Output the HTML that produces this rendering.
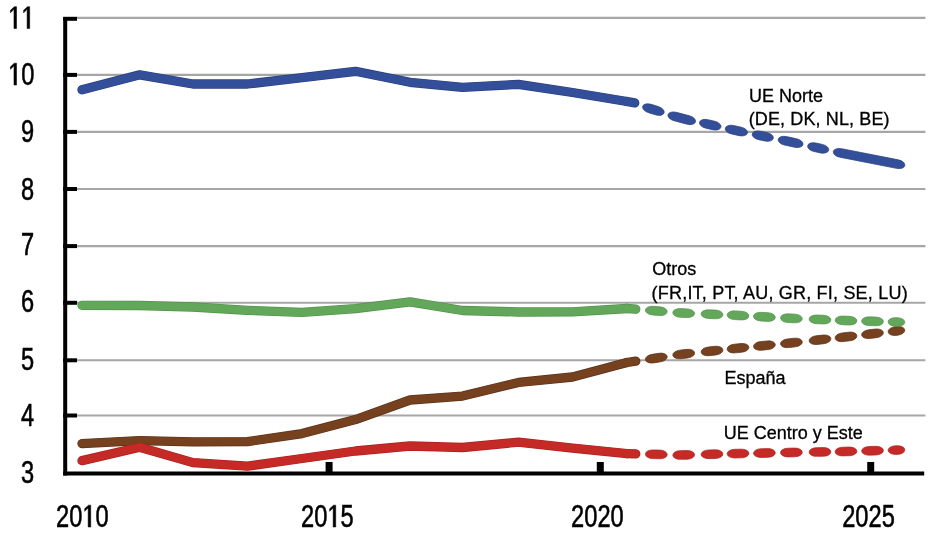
<!DOCTYPE html>
<html><head><meta charset="utf-8"><style>
html,body{margin:0;padding:0;background:#fff;}
body{width:950px;height:535px;overflow:hidden;font-family:"Liberation Sans",sans-serif;}
svg{display:block;will-change:transform;}
</style></head><body>
<svg width="950" height="535" viewBox="0 0 950 535">
<rect width="950" height="535" fill="#fff"/>
<g stroke="#a6a6a6" stroke-width="2.1"><line x1="77" y1="415.50" x2="925.4" y2="415.50"/><line x1="77" y1="360.30" x2="925.4" y2="360.30"/><line x1="77" y1="302.80" x2="925.4" y2="302.80"/><line x1="77" y1="246.10" x2="925.4" y2="246.10"/><line x1="77" y1="189.00" x2="925.4" y2="189.00"/><line x1="77" y1="131.90" x2="925.4" y2="131.90"/><line x1="77" y1="74.90" x2="925.4" y2="74.90"/><line x1="77" y1="17.90" x2="925.4" y2="17.90"/></g>
<g stroke="#000" stroke-width="4"><line x1="65.2" y1="17" x2="65.2" y2="475.5"/><line x1="63.2" y1="415.50" x2="77" y2="415.50"/><line x1="63.2" y1="360.30" x2="77" y2="360.30"/><line x1="63.2" y1="302.80" x2="77" y2="302.80"/><line x1="63.2" y1="246.10" x2="77" y2="246.10"/><line x1="63.2" y1="189.00" x2="77" y2="189.00"/><line x1="63.2" y1="131.90" x2="77" y2="131.90"/><line x1="63.2" y1="74.90" x2="77" y2="74.90"/><line x1="63.2" y1="18.80" x2="77" y2="18.80"/></g>
<line x1="63.2" y1="473.5" x2="924.2" y2="473.5" stroke="#000" stroke-width="4"/>
<line x1="329.1" y1="462" x2="329.1" y2="473" stroke="#000" stroke-width="7"/>
<line x1="600.3" y1="462" x2="600.3" y2="473" stroke="#000" stroke-width="7"/>
<line x1="870.7" y1="462" x2="870.7" y2="473" stroke="#000" stroke-width="7"/>
<g fill="none" stroke-linecap="round" stroke-linejoin="round"><polyline points="82.00,89.80 139.70,74.80 193.00,84.00 247.50,84.00 302.00,77.70 355.50,71.30 410.00,82.30 462.50,87.30 518.50,84.40 572.50,92.50 627.00,101.50" stroke="#2b3f7c" stroke-width="9.3"/><polyline points="627.00,101.50 634.75,102.90" stroke="#2b3f7c" stroke-width="9.3"/><polyline points="82.00,89.80 139.70,74.80 193.00,84.00 247.50,84.00 302.00,77.70 355.50,71.30 410.00,82.30 462.50,87.30 518.50,84.40 572.50,92.50 627.00,101.50" stroke="#344f9a" stroke-width="8.0"/><polyline points="627.00,101.50 634.75,102.90" stroke="#344f9a" stroke-width="8.0"/></g>
<g fill="#344f9a" stroke="#2b3f7c" stroke-width="0.7"><rect x="-11.19" y="-4.35" width="22.38" height="8.7" rx="7.5" ry="4.35" transform="translate(653.40,109.59) rotate(17.04)"/><rect x="-14.22" y="-4.35" width="28.43" height="8.7" rx="7.5" ry="4.35" transform="translate(681.75,118.26) rotate(14.72)"/><rect x="-11.02" y="-4.35" width="22.04" height="8.7" rx="7.5" ry="4.35" transform="translate(710.25,124.69) rotate(12.72)"/><rect x="-11.36" y="-4.35" width="22.71" height="8.7" rx="7.5" ry="4.35" transform="translate(736.40,130.58) rotate(12.21)"/><rect x="-10.78" y="-4.35" width="21.56" height="8.7" rx="7.5" ry="4.35" transform="translate(762.75,136.10) rotate(11.81)"/><rect x="-12.68" y="-4.35" width="25.36" height="8.7" rx="7.5" ry="4.35" transform="translate(790.60,141.92) rotate(12.07)"/><rect x="-10.75" y="-4.35" width="21.49" height="8.7" rx="7.5" ry="4.35" transform="translate(818.20,147.95) rotate(12.32)"/><rect x="-36.43" y="-4.35" width="72.86" height="8.7" rx="7.5" ry="4.35" transform="translate(869.05,158.52) rotate(11.11)"/></g>
<g fill="none" stroke-linecap="round" stroke-linejoin="round"><polyline points="82.00,443.60 139.70,440.60 193.00,441.80 247.50,441.60 302.00,433.60 355.50,419.60 410.00,400.00 462.50,396.10 518.50,382.40 572.50,377.00 627.00,362.50" stroke="#5c3217" stroke-width="9.3"/><polyline points="626.86,362.52 627.00,362.50 635.79,361.18" stroke="#5c3217" stroke-width="9.3"/><polyline points="82.00,443.60 139.70,440.60 193.00,441.80 247.50,441.60 302.00,433.60 355.50,419.60 410.00,400.00 462.50,396.10 518.50,382.40 572.50,377.00 627.00,362.50" stroke="#75411f" stroke-width="8.0"/><polyline points="626.86,362.52 627.00,362.50 635.79,361.18" stroke="#75411f" stroke-width="8.0"/></g>
<g fill="#75411f" stroke="#5c3217" stroke-width="0.7"><rect x="-11.02" y="-4.35" width="22.05" height="8.7" rx="7.5" ry="4.35" transform="translate(656.30,358.09) rotate(-8.56)"/><rect x="-10.97" y="-4.35" width="21.94" height="8.7" rx="7.5" ry="4.35" transform="translate(683.70,354.06) rotate(-6.50)"/><rect x="-10.96" y="-4.35" width="21.93" height="8.7" rx="7.5" ry="4.35" transform="translate(712.00,351.00) rotate(-6.18)"/><rect x="-10.96" y="-4.35" width="21.91" height="8.7" rx="7.5" ry="4.35" transform="translate(738.00,348.20) rotate(-5.75)"/><rect x="-10.95" y="-4.35" width="21.91" height="8.7" rx="7.5" ry="4.35" transform="translate(764.40,345.59) rotate(-5.66)"/><rect x="-10.96" y="-4.35" width="21.92" height="8.7" rx="7.5" ry="4.35" transform="translate(791.40,342.90) rotate(-6.06)"/><rect x="-10.97" y="-4.35" width="21.93" height="8.7" rx="7.5" ry="4.35" transform="translate(820.00,339.75) rotate(-6.28)"/><rect x="-10.97" y="-4.35" width="21.94" height="8.7" rx="7.5" ry="4.35" transform="translate(846.00,336.88) rotate(-6.56)"/><rect x="-10.97" y="-4.35" width="21.95" height="8.7" rx="7.5" ry="4.35" transform="translate(872.50,333.77) rotate(-6.70)"/><rect x="-8.41" y="-4.35" width="16.81" height="8.7" rx="7.5" ry="4.35" transform="translate(896.45,330.96) rotate(-6.70)"/></g>
<g fill="none" stroke-linecap="round" stroke-linejoin="round"><polyline points="82.00,305.30 139.70,305.50 193.00,307.00 247.50,310.30 302.00,312.40 355.50,308.60 410.00,301.90 462.50,310.50 518.50,312.00 572.50,311.80 627.00,308.50" stroke="#52904b" stroke-width="9.3"/><polyline points="626.86,308.49 627.00,308.50 635.79,309.23" stroke="#52904b" stroke-width="9.3"/><polyline points="82.00,305.30 139.70,305.50 193.00,307.00 247.50,310.30 302.00,312.40 355.50,308.60 410.00,301.90 462.50,310.50 518.50,312.00 572.50,311.80 627.00,308.50" stroke="#63a85a" stroke-width="8.0"/><polyline points="626.86,308.49 627.00,308.50 635.79,309.23" stroke="#63a85a" stroke-width="8.0"/></g>
<g fill="#63a85a" stroke="#52904b" stroke-width="0.7"><rect x="-10.94" y="-4.35" width="21.87" height="8.7" rx="7.5" ry="4.35" transform="translate(656.30,310.92) rotate(4.72)"/><rect x="-10.91" y="-4.35" width="21.82" height="8.7" rx="7.5" ry="4.35" transform="translate(683.70,313.09) rotate(2.72)"/><rect x="-10.91" y="-4.35" width="21.82" height="8.7" rx="7.5" ry="4.35" transform="translate(712.00,314.29) rotate(2.42)"/><rect x="-10.92" y="-4.35" width="21.83" height="8.7" rx="7.5" ry="4.35" transform="translate(738.00,315.41) rotate(3.03)"/><rect x="-10.92" y="-4.35" width="21.83" height="8.7" rx="7.5" ry="4.35" transform="translate(764.40,316.86) rotate(3.15)"/><rect x="-10.91" y="-4.35" width="21.82" height="8.7" rx="7.5" ry="4.35" transform="translate(791.40,318.34) rotate(2.61)"/><rect x="-10.91" y="-4.35" width="21.82" height="8.7" rx="7.5" ry="4.35" transform="translate(820.00,319.49) rotate(2.31)"/><rect x="-10.91" y="-4.35" width="21.81" height="8.7" rx="7.5" ry="4.35" transform="translate(846.00,320.53) rotate(1.89)"/><rect x="-10.90" y="-4.35" width="21.81" height="8.7" rx="7.5" ry="4.35" transform="translate(872.50,321.31) rotate(1.68)"/><rect x="-8.35" y="-4.35" width="16.71" height="8.7" rx="7.5" ry="4.35" transform="translate(896.45,322.01) rotate(1.68)"/></g>
<g fill="none" stroke-linecap="round" stroke-linejoin="round"><polyline points="82.00,460.60 139.70,447.20 193.00,462.60 247.50,466.20 302.00,458.50 355.50,451.00 410.00,446.00 462.50,447.50 518.50,442.20 572.50,448.10 627.00,453.60" stroke="#a8221e" stroke-width="9.3"/><polyline points="626.86,453.60 627.00,453.60 635.79,453.83" stroke="#a8221e" stroke-width="9.3"/><polyline points="82.00,460.60 139.70,447.20 193.00,462.60 247.50,466.20 302.00,458.50 355.50,451.00 410.00,446.00 462.50,447.50 518.50,442.20 572.50,448.10 627.00,453.60" stroke="#c62a26" stroke-width="8.0"/><polyline points="626.86,453.60 627.00,453.60 635.79,453.83" stroke="#c62a26" stroke-width="8.0"/></g>
<g fill="#c62a26" stroke="#a8221e" stroke-width="0.7"><rect x="-10.90" y="-4.35" width="21.81" height="8.7" rx="7.5" ry="4.35" transform="translate(656.30,454.35) rotate(1.47)"/><rect x="-10.90" y="-4.35" width="21.80" height="8.7" rx="7.5" ry="4.35" transform="translate(683.70,454.94) rotate(-1.08)"/><rect x="-10.90" y="-4.35" width="21.81" height="8.7" rx="7.5" ry="4.35" transform="translate(712.00,454.22) rotate(-1.47)"/><rect x="-10.90" y="-4.35" width="21.80" height="8.7" rx="7.5" ry="4.35" transform="translate(738.00,453.56) rotate(-1.21)"/><rect x="-10.90" y="-4.35" width="21.80" height="8.7" rx="7.5" ry="4.35" transform="translate(764.40,453.03) rotate(-1.16)"/><rect x="-10.90" y="-4.35" width="21.80" height="8.7" rx="7.5" ry="4.35" transform="translate(791.40,452.48) rotate(-1.09)"/><rect x="-10.90" y="-4.35" width="21.80" height="8.7" rx="7.5" ry="4.35" transform="translate(820.00,451.96) rotate(-1.05)"/><rect x="-10.90" y="-4.35" width="21.81" height="8.7" rx="7.5" ry="4.35" transform="translate(846.00,451.47) rotate(-1.40)"/><rect x="-10.90" y="-4.35" width="21.81" height="8.7" rx="7.5" ry="4.35" transform="translate(872.50,450.74) rotate(-1.58)"/><rect x="-8.35" y="-4.35" width="16.71" height="8.7" rx="7.5" ry="4.35" transform="translate(896.45,450.08) rotate(-1.58)"/></g>
<g font-family="Liberation Sans, sans-serif" font-size="31.7" fill="#000" stroke="#000" stroke-width="0.6"><text transform="translate(20.90,483.00) scale(0.746,1)">3</text><text transform="translate(20.90,426.00) scale(0.746,1)">4</text><text transform="translate(20.90,370.00) scale(0.746,1)">5</text><text transform="translate(20.90,312.00) scale(0.746,1)">6</text><text transform="translate(20.90,255.00) scale(0.746,1)">7</text><text transform="translate(20.90,200.00) scale(0.746,1)">8</text><text transform="translate(20.90,142.00) scale(0.746,1)">9</text><text transform="translate(8.20,85.00) scale(0.746,1)"> 0</text><path transform="translate(8.20,85.00) scale(0.011547,-0.015479)" stroke-width="38.8" d="M500,0 L500,1237 L197,1010 L197,1180 L530,1409 L720,1409 L720,0 Z"/><text transform="translate(8.20,28.50) scale(0.746,1)">  </text><path transform="translate(8.20,28.50) scale(0.011547,-0.015479)" stroke-width="38.8" d="M500,0 L500,1237 L197,1010 L197,1180 L530,1409 L720,1409 L720,0 Z"/><path transform="translate(21.35,28.50) scale(0.011547,-0.015479)" stroke-width="38.8" d="M500,0 L500,1237 L197,1010 L197,1180 L530,1409 L720,1409 L720,0 Z"/><text transform="translate(56.10,527.00) scale(0.746,1)">20 0</text><path transform="translate(82.40,527.00) scale(0.011547,-0.015479)" stroke-width="38.8" d="M500,0 L500,1237 L197,1010 L197,1180 L530,1409 L720,1409 L720,0 Z"/><text transform="translate(301.10,527.00) scale(0.746,1)">20 5</text><path transform="translate(327.40,527.00) scale(0.011547,-0.015479)" stroke-width="38.8" d="M500,0 L500,1237 L197,1010 L197,1180 L530,1409 L720,1409 L720,0 Z"/><text transform="translate(571.10,527.00) scale(0.746,1)">2020</text><text transform="translate(842.20,527.00) scale(0.746,1)">2025</text></g>
<g font-family="Liberation Sans, sans-serif" font-size="18" fill="#000" stroke="#000" stroke-width="0.3"><text x="748.9" y="101.5" letter-spacing="0">UE Norte</text><text x="748.7" y="124.6" letter-spacing="0.12">(DE, DK, NL, BE)</text><text x="652.2" y="275.3" letter-spacing="0">Otros</text><text x="651.6" y="298.5" letter-spacing="0.2">(FR,IT, PT, AU, GR, FI, SE, LU)</text><text x="724.5" y="383.8" letter-spacing="0">España</text><text x="723.8" y="439.4" letter-spacing="0">UE Centro y Este</text></g>
</svg>
</body></html>
